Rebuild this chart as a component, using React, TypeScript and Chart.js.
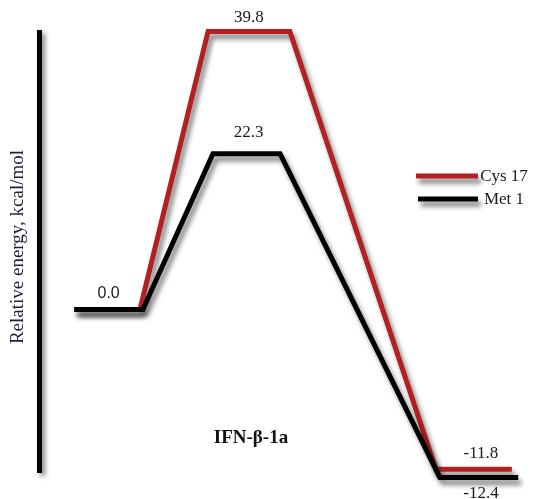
import React, { useEffect, useRef } from "react";
import { Chart, registerables, LinearScale } from "chart.js";

// ---- data ----
const seriesNames = ["Cys 17", "Met 1"];
const seriesColors = ["#b41f1f", "#000000"];
// reaction coordinate (arbitrary units) of each corner of the profile
const cysX = [7, 20.4, 34.3, 51, 80.8, 96.3];
const metX = [7, 21, 35.3, 49, 81.6, 97.6];
// relative energy, kcal/mol
const cysEnergy = [0.0, 0.0, 39.8, 39.8, -11.8, -11.8];
const metEnergy = [0.0, 0.0, 22.3, 22.3, -12.4, -12.4];
const yTitle = "Relative energy, kcal/mol";
const systemName = "IFN-β-1a";

// schematic axis: negative energies are drawn stretched
const NEG_STRETCH = 1.94;
const Y_MAX = 40;
const Y_MIN = -11.85;

class SchematicScale extends LinearScale {
  static id = "schematic";
  static defaults = { ...(LinearScale as any).defaults };
  getPixelForValue(value: number) {
    const v = value < 0 ? value * NEG_STRETCH : value;
    return super.getPixelForValue(v);
  }
  getValueForPixel(pixel: number) {
    const v = super.getValueForPixel(pixel) as number;
    return v < 0 ? v / NEG_STRETCH : v;
  }
}

Chart.register(...registerables, SchematicScale as any);

const SHADOW = "rgba(0,0,0,0.5)";

function withShadow(ctx: CanvasRenderingContext2D) {
  ctx.shadowColor = SHADOW;
  ctx.shadowBlur = 5;
  ctx.shadowOffsetX = 3;
  ctx.shadowOffsetY = 5;
}

const shadowPlugin = {
  id: "lineShadow",
  beforeDatasetDraw(chart: any) {
    chart.ctx.save();
    withShadow(chart.ctx);
  },
  afterDatasetDraw(chart: any) {
    chart.ctx.restore();
  },
};

const axisPlugin = {
  id: "axisLine",
  beforeDatasetsDraw(chart: any) {
    const { ctx, chartArea } = chart;
    ctx.save();
    withShadow(ctx);
    ctx.shadowOffsetY = 3;
    ctx.strokeStyle = "#000";
    ctx.lineWidth = 5;
    ctx.beginPath();
    ctx.moveTo(chartArea.left - 0.5, chartArea.top);
    ctx.lineTo(chartArea.left - 0.5, chartArea.bottom + 3);
    ctx.stroke();
    ctx.restore();
  },
};

const serif = "'Liberation Serif', 'Times New Roman', serif";
const sans = "'Liberation Sans', Arial, sans-serif";

const labelPlugin = {
  id: "profileLabels",
  afterDatasetsDraw(chart: any) {
    const { ctx, chartArea } = chart;
    ctx.save();
    ctx.textAlign = "center";
    ctx.textBaseline = "middle";
    ctx.fillStyle = "#1a1a1a";

    const plateau = (di: number, pi: number) => {
      const pts = chart.getDatasetMeta(di).data;
      const a = pts[pi * 2];
      const b = pts[pi * 2 + 1];
      const ds = chart.data.datasets[di];
      return {
        x: (a.x + b.x) / 2,
        y: a.y,
        text: (ds.data[pi * 2].y as number).toFixed(1),
      };
    };
    // [dataset, plateau, dy, dx, font]
    const specs: [number, number, number, number, string][] = [
      [1, 0, -16, 0, `16px ${sans}`],
      [0, 1, -14, 0, `17px ${serif}`],
      [1, 1, -21, 2, `17px ${serif}`],
      [0, 2, -16, 7, `17px ${serif}`],
      [1, 2, 16, 2, `17px ${serif}`],
    ];
    specs.forEach(([di, pi, dy, dx, font]) => {
      const p = plateau(di, pi);
      ctx.font = font;
      ctx.fillText(p.text, p.x + dx, p.y + dy);
    });

    // system name
    ctx.font = `bold 19px ${serif}`;
    ctx.fillStyle = "#111";
    ctx.fillText(systemName, chartArea.left + 211, chartArea.bottom - 32);

    // y axis title
    ctx.save();
    ctx.translate(chartArea.left - 22, (chartArea.top + chartArea.bottom) / 2 - 3);
    ctx.rotate(-Math.PI / 2);
    ctx.font = `19px ${serif}`;
    ctx.fillStyle = "#1e1e3c";
    ctx.fillText(yTitle, 0, 0);
    ctx.restore();

    // legend
    const lx0 = chartArea.left + 376;
    const lx1 = chartArea.left + 438;
    const rows = [176, 199];
    seriesNames.forEach((name, i) => {
      const y = rows[i];
      ctx.save();
      withShadow(ctx);
      ctx.strokeStyle = seriesColors[i];
      ctx.lineWidth = 5;
      ctx.beginPath();
      ctx.moveTo(lx0 + (i === 1 ? 2 : 0), y);
      ctx.lineTo(lx1, y);
      ctx.stroke();
      ctx.restore();
      ctx.font = `17px ${serif}`;
      ctx.fillStyle = "#1a1a1a";
      ctx.textAlign = "center";
      ctx.fillText(name, lx1 + 26, y + 1);
    });
    ctx.restore();
  },
};

export default function App() {
  const ref = useRef<HTMLCanvasElement | null>(null);
  useEffect(() => {
    if (!ref.current) return;
    const mk = (xs: number[], ys: number[]) => xs.map((x, i) => ({ x, y: ys[i] }));
    const chart = new Chart(ref.current, {
      type: "line",
      data: {
        datasets: [
          {
            label: seriesNames[0],
            data: mk(cysX, cysEnergy),
            borderColor: seriesColors[0],
            borderWidth: 5,
            pointRadius: 0,
            tension: 0,
            fill: false,
            clip: false as any,
            borderJoinStyle: "miter",
            borderCapStyle: "butt",
            order: 1,
          },
          {
            label: seriesNames[1],
            data: mk(metX, metEnergy),
            borderColor: seriesColors[1],
            borderWidth: 5,
            pointRadius: 0,
            tension: 0,
            fill: false,
            clip: false as any,
            borderJoinStyle: "miter",
            borderCapStyle: "butt",
            order: 0,
          },
        ],
      },
      options: {
        animation: false,
        responsive: true,
        maintainAspectRatio: false,
        layout: { padding: { left: 40, top: 30, right: 9, bottom: 29 } },
        plugins: { legend: { display: false }, tooltip: { enabled: false } },
        scales: {
          x: { type: "linear", min: 0, max: 100, display: false },
          y: {
            type: "schematic" as any,
            min: Y_MIN * NEG_STRETCH,
            max: Y_MAX,
            display: false,
          },
        },
      },
      plugins: [shadowPlugin, axisPlugin, labelPlugin],
    });
    return () => chart.destroy();
  }, []);
  return (
    <div style={{ position: "absolute", left: 0, top: 0, width: 539, height: 499, background: "#fff" }}>
      <canvas ref={ref} />
    </div>
  );
}
